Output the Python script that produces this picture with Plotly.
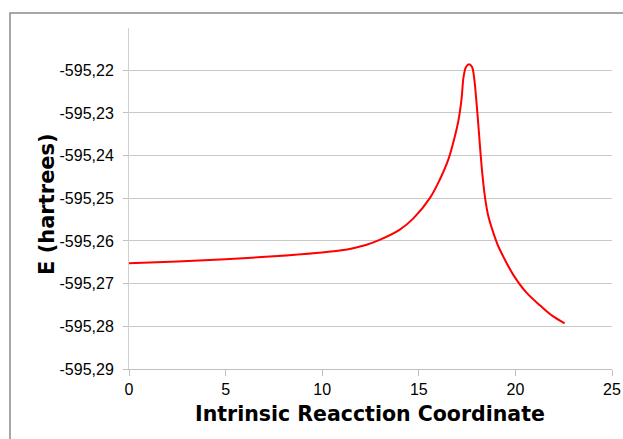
import plotly.graph_objects as go

irc = [0, 2.5, 5, 7.5, 10, 11, 11.6, 12.3, 13, 14, 14.72, 15.58, 16.09, 16.53,
       16.87, 17.05, 17.21, 17.32, 17.45, 17.6, 17.75, 17.87, 17.96, 18.05, 18.2,
       18.3, 18.43, 18.6, 18.86, 19.12, 19.55, 19.9, 20.55, 21.3, 21.9, 22.55]
energy = [-595.2652, -595.2648, -595.2643, -595.2636, -595.2627, -595.2622,
          -595.2617, -595.2609, -595.2597, -595.2574, -595.2547, -595.2499,
          -595.2456, -595.2409, -595.2354, -595.2318, -595.2268, -595.2215,
          -595.2192, -595.2186, -595.2192, -595.2220, -595.2262, -595.2310,
          -595.2397, -595.2448, -595.2499, -595.2542, -595.2581, -595.2613,
          -595.2652, -595.2680, -595.2720, -595.2752, -595.2775, -595.2793]

x_ticks = [0, 5, 10, 15, 20, 25]
y_ticks = [-595.22, -595.23, -595.24, -595.25, -595.26, -595.27, -595.28, -595.29]
y_tick_text = ["-595,22", "-595,23", "-595,24", "-595,25", "-595,26", "-595,27", "-595,28", "-595,29"]

fig = go.Figure()
fig.add_trace(go.Scatter(x=irc, y=energy, mode="lines",
                         line=dict(color="#ff0000", width=2, shape="spline", smoothing=1.0),
                         showlegend=False, hoverinfo="x+y"))

fig.update_layout(
    width=623, height=439,
    margin=dict(l=129, r=11, t=28, b=70, autoexpand=False),
    paper_bgcolor="white", plot_bgcolor="white",
    font=dict(family="Liberation Sans, Arial, sans-serif", color="#000000", size=16),
    xaxis=dict(range=[0, 25], tickvals=x_ticks, ticktext=[str(t) for t in x_ticks],
               automargin=False,
               showgrid=False, zeroline=False, showline=True, linecolor="#c0c0c0", linewidth=1,
               ticks="outside", ticklen=6, tickcolor="#c0c0c0", tickfont=dict(size=16)),
    yaxis=dict(range=[-595.29, -595.2101], tickvals=y_ticks, ticktext=y_tick_text,
               automargin=False,
               showgrid=True, gridcolor="#c8c8c8", gridwidth=1, zeroline=False,
               showline=True, linecolor="#d0d0d0", linewidth=1,
               ticks="outside", ticklen=5, tickcolor="#c0c0c0", tickfont=dict(size=16),
               ticklabelstandoff=6),
    shapes=[dict(type="rect", xref="paper", yref="paper",
                 x0=(10 - 129) / 483, x1=(640 - 129) / 483,
                 y0=(369 - 460) / 341, y1=(369 - 13) / 341,
                 line=dict(color="#8a8a8a", width=1.5), fillcolor="rgba(0,0,0,0)", layer="below")],
    annotations=[
        dict(text="<b>Intrinsic Reacction Coordinate</b>", xref="paper", yref="paper",
             x=(370 - 129) / 483, y=(369 - 414) / 341, showarrow=False,
             xanchor="center", yanchor="middle",
             font=dict(family="DejaVu Sans", size=20.5, color="#000000")),
        dict(text="<b>E (hartrees)</b>", xref="paper", yref="paper",
             x=(47 - 129) / 483, y=(369 - 204) / 341, showarrow=False, textangle=-90,
             xanchor="center", yanchor="middle",
             font=dict(family="DejaVu Sans", size=21, color="#000000")),
    ],
)

fig.write_html("out.html",
               config={"displayModeBar": False},
               post_script="document.body.style.margin='0';document.body.style.overflow='hidden';")
